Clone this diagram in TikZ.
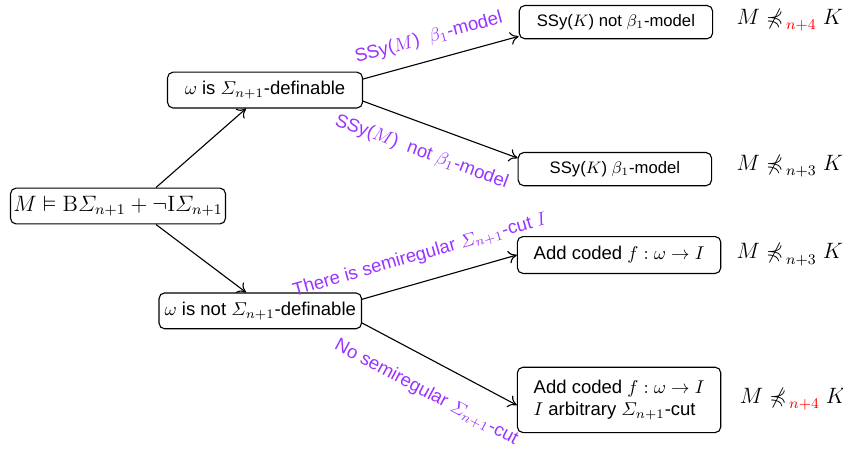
\documentclass[tikz,border=0pt]{standalone}
\usepackage{amsmath}
\usepackage{amssymb}
\usepackage[no-math]{fontspec}
\setmainfont{Liberation Sans}
\usepackage{tikz}
\usepackage{xcolor}
\usetikzlibrary{arrows.meta}
\definecolor{casepurple}{RGB}{153,51,255}
\newcommand{\nprecc}{\mathrel{\not\preccurlyeq}}
\tikzset{box/.style={draw, rounded corners=3pt, line width=0.6pt, inner sep=3pt},
 smallbox/.style={box, font=\small, minimum width=3.67cm, minimum height=0.63cm},
 addbox/.style={box, minimum width=3.86cm},
 case/.style={text=casepurple, sloped, inner sep=2pt},
 result/.style={anchor=west, font=\large, inner sep=0pt},
 }

\begin{document}
\begin{tikzpicture}[semithick, >={To[length=4.5pt, width=7pt]}]
        \useasboundingbox (0, 0) rectangle (16, 8.57);
        \node[box, inner sep=1.5pt, minimum height=0.68cm, font=\large] (root) at (2.24, 4.66)
            {$M \vDash \mathrm{B}\varSigma_{n+1} + \neg\mathrm{I}\varSigma_{n+1}$};
        \node[box, minimum width=3.7cm, minimum height=0.68cm] (def) at (5.03, 6.86)
            {$\omega$ is $\varSigma_{n+1}$-definable};
        \node[box, minimum height=0.68cm] (notdef) at (4.94, 2.67)
            {$\omega$ is not $\varSigma_{n+1}$-definable};
        \node[smallbox] (notbeta) at (11.69, 8.15) {SSy($K$) not $\beta_1$-model};
        \node[smallbox] (beta) at (11.67, 5.36) {SSy($K$) $\beta_1$-model};
        \node[addbox, minimum height=0.70cm] (semireg) at (11.75, 3.73)
            {Add coded $f:\omega\to I$};
        \node[addbox, minimum height=1.24cm, align=left] (arbcut) at (11.75, 0.98)
            {Add coded $f:\omega\to I$\\$I$ arbitrary $\varSigma_{n+1}$-cut};
        % results
        \node[result] (rnotbeta) at (13.97, 8.19) {$M \nprecc_{\,\textcolor{red}{n+4}} K$};
        \node[result] (rbeta) at (13.97, 5.415) {$M \nprecc_{\,n+3} K$};
        \node[result] (rsemireg) at (13.97, 3.74) {$M \nprecc_{\,n+3} K$};
        \node[result] (rarbcut) at (14.03, 0.99) {$M \nprecc_{\,\textcolor{red}{n+4}} K$};
        % arrows
        \draw[->] ([xshift=0.72cm]root.north) -- ([xshift=-0.36cm]def.south);
        \draw[->] ([xshift=0.72cm]root.south) -- ([xshift=-0.27cm]notdef.north);
        \draw[->] ([yshift=0.21cm]def.east) -- ([yshift=-0.27cm]notbeta.west)
            node[case, above=5pt, pos=0.46] {SSy($M$) \ $\beta_1$-model};
        \draw[->] ([yshift=-0.21cm]def.east) -- ([yshift=0.21cm]beta.west)
            node[case, below=8pt, pos=0.44] {SSy($M$) \ not $\beta_1$-model};
        \draw[->] ([yshift=0.22cm]notdef.east) -- (semireg.west)
            node[case, above=7pt, pos=0.42] {There is semiregular $\varSigma_{n+1}$-cut $I$};
        \draw[->] ([yshift=-0.23cm]notdef.east) -- ([yshift=-0.1cm]arbcut.west)
            node[case, below=10pt, pos=0.51] {No semiregular $\varSigma_{n+1}$-cut};
    \end{tikzpicture}
\end{document}
